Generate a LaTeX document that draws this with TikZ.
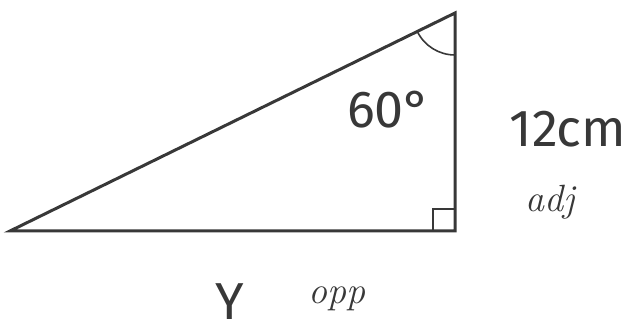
\documentclass[tikz,border=0pt]{standalone}
\usepackage{fontspec}
\setsansfont{Fira Sans}
\usetikzlibrary{calc}
\definecolor{ink}{HTML}{383838}

\begin{document}
\begin{tikzpicture}[x=1pt, y=1pt, line width=3pt,
    bigtext/.style={font=\sffamily\fontsize{52}{58}\selectfont, text=ink, anchor=base, inner sep=0pt},
    handtext/.style={font=\itshape\fontsize{38}{42}\selectfont, text=ink, anchor=base, inner sep=0pt}]
    \useasboundingbox (0,0) rectangle (630,334);
    % Triangle corners
    \coordinate (A) at (10,103);
    \coordinate (B) at (455,103);
    \coordinate (C) at (455,321);
    \draw[ink, line join=miter] (A) -- (B) -- (C) -- cycle;
    % Angle arc at the top and right angle mark
    \draw[ink, line width=1.6pt] ($(C)+(206:42pt)$) arc[start angle=206, end angle=270, radius=42pt];
    \draw[ink, line width=1.6pt] ($(B)+(-22,0)$) -- ++(0,22) -- ++(22,0);
    % Labels
    \node[bigtext] (angle) at (389,206) {60°};
    \node[bigtext] (side) at (568,187) {12cm};
    \node[handtext] (adj) at (550,122) {adj};
    \node[bigtext] (y) at (230,14) {Y};
    \node[handtext] (opp) at (337,30) {opp};
\end{tikzpicture}
\end{document}
